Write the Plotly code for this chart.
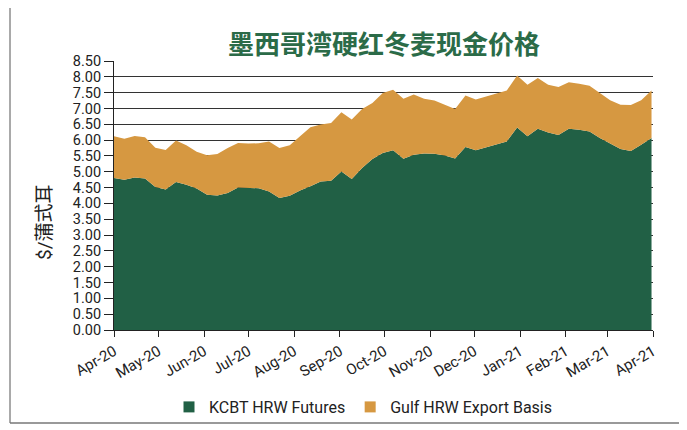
import pandas as pd
import plotly.graph_objects as go

# Weekly observations, Apr-2020 .. Apr-2021
start_date = "2020-04-01"
n_weeks = 53
kcbt_futures = [4.80, 4.75, 4.82, 4.79, 4.52, 4.44, 4.68, 4.59, 4.47, 4.27,
                4.25, 4.33, 4.50, 4.49, 4.48, 4.38, 4.17, 4.24, 4.41, 4.54,
                4.69, 4.72, 5.01, 4.77, 5.12, 5.40, 5.59, 5.68, 5.41, 5.54,
                5.58, 5.57, 5.51, 5.42, 5.78, 5.68, 5.78, 5.88, 5.96, 6.40,
                6.12, 6.36, 6.24, 6.16, 6.36, 6.33, 6.27, 6.07, 5.89, 5.72,
                5.66, 5.85, 6.07]
gulf_basis = [1.32, 1.29, 1.31, 1.30, 1.24, 1.25, 1.31, 1.25, 1.16, 1.25,
              1.31, 1.42, 1.41, 1.40, 1.42, 1.58, 1.58, 1.60, 1.71, 1.87,
              1.80, 1.82, 1.87, 1.88, 1.86, 1.77, 1.90, 1.91, 1.90, 1.90,
              1.73, 1.68, 1.61, 1.56, 1.63, 1.60, 1.60, 1.59, 1.61, 1.64,
              1.63, 1.60, 1.51, 1.52, 1.47, 1.45, 1.45, 1.42, 1.37, 1.40,
              1.45, 1.41, 1.50]
month_ticks = ["2020-04-01", "2020-05-01", "2020-06-01", "2020-07-01", "2020-08-01",
               "2020-09-01", "2020-10-01", "2020-11-01", "2020-12-01", "2021-01-01",
               "2021-02-01", "2021-03-01", "2021-04-01"]
y_ticks = [i * 0.5 for i in range(18)]

title_text = "墨西哥湾硬红冬麦现金价格"
y_title = "$/蒲式耳"
series_names = ["KCBT HRW Futures", "Gulf HRW Export Basis"]

GREEN = "#216045"
ORANGE = "#D69841"
TITLE_GREEN = "#2B6B48"

dates = pd.date_range(start_date, periods=n_weeks, freq="7D")

fig = go.Figure()
fig.add_trace(go.Scatter(x=dates, y=kcbt_futures, name=series_names[0],
                         stackgroup="one", mode="lines", showlegend=False,
                         line=dict(width=0, color=GREEN), fillcolor=GREEN))
fig.add_trace(go.Scatter(x=dates, y=gulf_basis, name=series_names[1],
                         stackgroup="one", mode="lines", showlegend=False,
                         line=dict(width=0, color=ORANGE), fillcolor=ORANGE))
# legend entries with square swatches
for nm, col in zip(series_names, [GREEN, ORANGE]):
    fig.add_trace(go.Scatter(x=[None], y=[None], name=nm, mode="markers",
                             marker=dict(symbol="square", size=11, color=col)))

# page body has an 8px margin: work in window pixels, convert to figure pixels
OFF = 8
W, H = 687 - OFF, 430 - OFF
PL, PR, PT, PB = 114, 653, 61, 330  # plot area in window pixels
L = PL - OFF
R = W - (PR - OFF)
T = PT - OFF
B = H - (PB - OFF)
pw = W - L - R
ph = H - T - B

def px_x(px):
    return (px - PL) / pw

def px_y(py):
    return (PB - py) / ph

fig.update_layout(
    width=W, height=H,
    margin=dict(l=L, r=R, t=T, b=B, autoexpand=False),
    paper_bgcolor="white", plot_bgcolor="white",
    font=dict(family="Roboto, Arial, sans-serif", size=14, color="#222222"),
    showlegend=True,
    legend=dict(orientation="h", x=px_x(169), xanchor="left",
                y=px_y(407), yanchor="middle",
                font=dict(size=16, color="#222222"),
                itemwidth=30, traceorder="normal", tracegroupgap=0,
                bgcolor="rgba(0,0,0,0)"),
    xaxis=dict(type="date", range=["2020-04-01", "2021-04-01"],
               tickvals=month_ticks, tickformat="%b-%y", tickangle=-30,
               showgrid=False, showline=True, linecolor="#222222", linewidth=1,
               ticks="outside", ticklen=6, tickcolor="#222222", automargin=False,
               tickfont=dict(size=15, color="#222222")),
    yaxis=dict(range=[0, 8.5], tickvals=y_ticks, tickformat=".2f",
               showgrid=True, gridcolor="#333333", gridwidth=1,
               showline=True, linecolor="#222222", linewidth=1,
               ticks="outside", ticklen=9, tickcolor="#222222", automargin=False,
               tickfont=dict(size=14.5, color="#222222"), zeroline=False),
    annotations=[
        dict(text="<b>" + title_text + "</b>", xref="paper", yref="paper",
             x=px_x(384), y=px_y(42), xanchor="center", yanchor="middle",
             showarrow=False,
             font=dict(family="Noto Sans CJK SC", size=26, color=TITLE_GREEN)),
        dict(text=y_title, xref="paper", yref="paper",
             x=px_x(44), y=px_y(222), xanchor="center", yanchor="middle",
             textangle=-90, showarrow=False,
             font=dict(family="Roboto, Noto Sans CJK SC", size=19, color="#222222")),
    ],
    shapes=[
        dict(type="line", xref="paper", yref="paper",
             x0=px_x(10), x1=px_x(10), y0=px_y(0), y1=px_y(423),
             line=dict(color="#555555", width=1)),
        dict(type="line", xref="paper", yref="paper",
             x0=px_x(10), x1=px_x(687), y0=px_y(423), y1=px_y(423),
             line=dict(color="#777777", width=1.5)),
    ],
)

fig.write_html("out.html")
